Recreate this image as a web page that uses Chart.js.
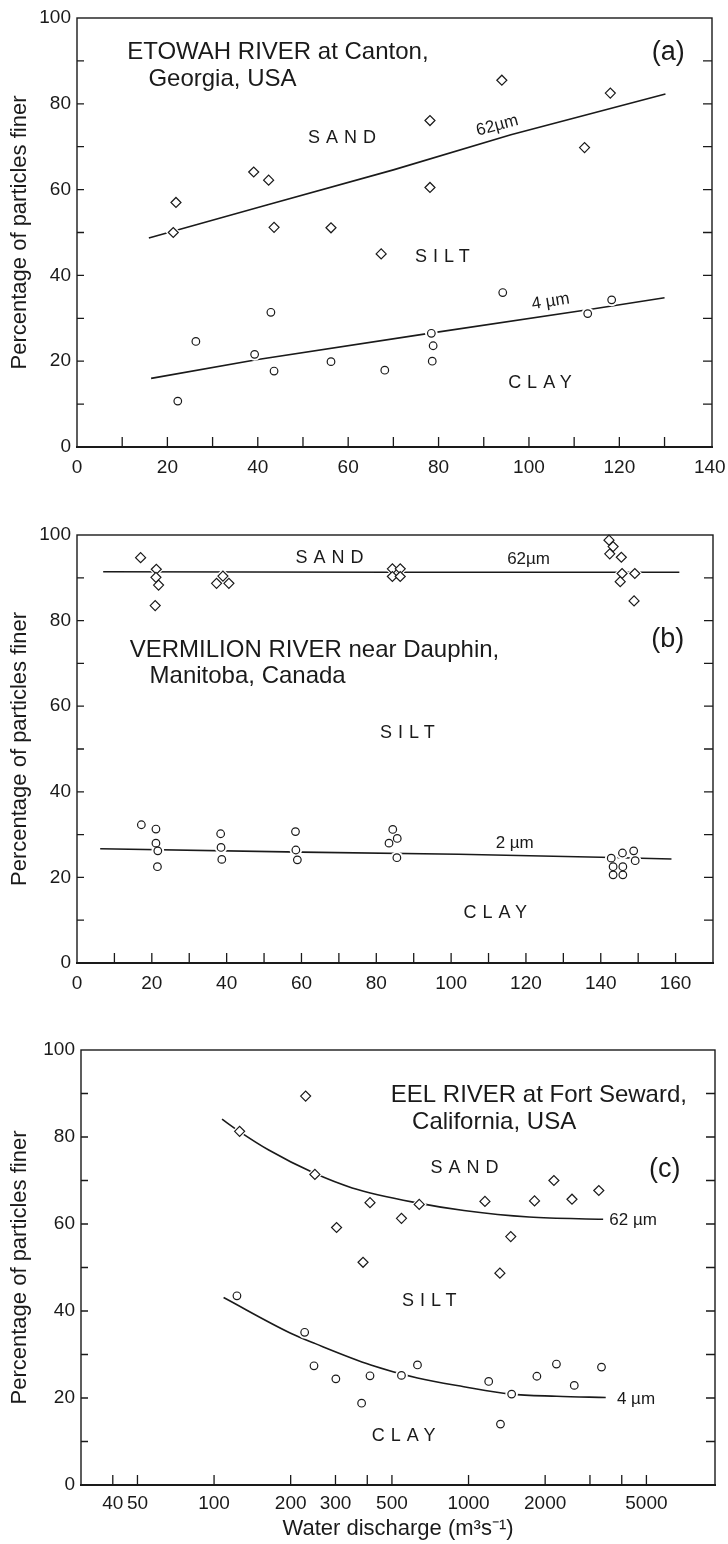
<!DOCTYPE html>
<html>
<head>
<meta charset="utf-8">
<script src="https://cdn.jsdelivr.net/npm/chart.js@4.4.1/dist/chart.umd.min.js"></script>
<style>
    html, body { margin: 0; padding: 0; background: #fff; }
    #page { position: relative; width: 728px; height: 1544px; }
    #page canvas { position: absolute; left: 0; }
</style>
</head>
<body>
<div id="page">
    <canvas id="chartA" width="728" height="500" style="top:0px"></canvas>
    <canvas id="chartB" width="728" height="505" style="top:500px"></canvas>
    <canvas id="chartC" width="728" height="539" style="top:1005px"></canvas>
</div>
<script>
// ---- (a) ETOWAH RIVER at Canton ----
const etowahSandQ = [21.9, 21.3, 39.1, 42.4, 43.6, 56.2, 67.3, 78.1, 78.1, 94.0, 112.3, 118.0];
const etowahSandPct = [57.0, 50.0, 64.1, 62.2, 51.2, 51.1, 45.0, 76.1, 60.5, 85.5, 69.8, 82.5];
const etowahClayQ = [22.3, 26.3, 39.3, 42.9, 43.6, 56.2, 68.1, 78.4, 78.8, 78.6, 94.2, 113.0, 118.3];
const etowahClayPct = [10.7, 24.6, 21.6, 31.4, 17.7, 19.9, 17.9, 26.5, 23.6, 20.0, 36.0, 31.1, 34.3];
const etowah62Q = [15.9, 42, 70, 96, 130.2];
const etowah62Pct = [48.7, 56.4, 64.6, 72.8, 82.3];
const etowah4Q = [16.4, 40, 78.6, 113, 130];
const etowah4Pct = [16.0, 20.4, 26.6, 32.0, 34.8];
const etowahXLabels = [0, 20, 40, 60, 80, 100, 120, 140];
const etowahXTicks = [10, 20, 30, 40, 50, 60, 70, 80, 90, 100, 110, 120, 130];

// ---- (b) VERMILION RIVER near Dauphin ----
const vermSandQ = [17.0, 21.2, 21.1, 21.8, 20.9, 37.3, 39.0, 40.6, 84.3, 86.4, 84.3, 86.4,
    142.2, 143.3, 142.4, 145.5, 145.7, 145.2, 149.1, 148.9];
const vermSandPct = [94.7, 92.0, 90.1, 88.3, 83.5, 88.7, 90.4, 88.7, 92.1, 92.1, 90.3, 90.3,
    98.8, 97.3, 95.6, 94.8, 91.0, 89.1, 91.0, 84.6];
const vermClayQ = [17.2, 21.1, 21.1, 21.6, 21.5, 38.4, 38.5, 38.7, 58.4, 58.5, 58.9, 84.4, 85.6, 83.4, 85.5,
    142.8, 143.3, 143.3, 145.8, 145.9, 145.9, 148.8, 149.2];
const vermClayPct = [32.3, 31.3, 28.0, 26.2, 22.5, 30.2, 27.0, 24.2, 30.7, 26.4, 24.1, 31.2, 29.1, 28.0, 24.6,
    24.5, 22.5, 20.6, 25.7, 22.5, 20.6, 26.2, 23.9];
const verm62Q = [7, 85, 161];
const verm62Pct = [91.4, 91.3, 91.3];
const verm2Q = [6.2, 60, 102, 140, 158.9];
const verm2Pct = [26.7, 25.9, 25.4, 24.7, 24.3];
const vermXLabels = [0, 20, 40, 60, 80, 100, 120, 140, 160];
const vermXTicks = [10, 20, 30, 40, 50, 60, 70, 80, 90, 100, 110, 120, 130, 140, 150, 160];

// ---- (c) EEL RIVER at Fort Seward ----
const eelSandQ = [126, 229, 249, 303, 385, 410, 545, 640, 1160, 1328, 1465, 1817, 2165, 2550, 3250];
const eelSandPct = [81.3, 89.4, 71.4, 59.2, 51.2, 64.9, 61.3, 64.5, 65.2, 48.7, 57.1, 65.3, 70.0, 65.7, 67.7];
const eelClayQ = [123, 227, 247, 301, 380, 410, 545, 630, 1200, 1335, 1477, 1856, 2215, 2603, 3330];
const eelClayPct = [43.5, 35.1, 27.4, 24.4, 18.8, 25.1, 25.2, 27.6, 23.8, 14.0, 20.9, 25.0, 27.8, 22.9, 27.1];
const eel62Q = [107.5, 125.5, 164, 247, 349, 635, 959, 1729, 3380];
const eel62Pct = [84.1, 81.3, 77.0, 71.7, 68.3, 64.8, 63.1, 61.6, 61.1];
const eel4Q = [109, 200, 250, 413, 630, 958, 1460, 2221, 3460];
const eel4Pct = [43.1, 34.9, 32.5, 27.6, 24.6, 22.6, 20.9, 20.4, 20.1];
const eelXLabels = [40, 50, 100, 200, 300, 500, 1000, 2000, 5000];
const eelXTicks = [40, 50, 100, 200, 300, 400, 500, 1000, 2000, 3000, 4000, 5000];

// shared y axis
const pctLabels = [0, 20, 40, 60, 80, 100];
const pctTicks = [10, 20, 30, 40, 50, 60, 70, 80, 90];

const INK = '#1a1a1a';
const FONT = '"Liberation Sans", Arial, sans-serif';

/**
 * zip two arrays into {x, y} points
 */
function pts(xs, ys) {
    return xs.map((x, i) => ({ x: x, y: ys[i] }));
}

/**
 * 枠と内向きの目盛、注記を描く
 */
const frameTicks = {
    id: 'frameTicks',
    afterDatasetsDraw(chart, args, opts) {
        const ctx = chart.ctx;
        const a = chart.chartArea;
        const xs = chart.scales.x;
        const ys = chart.scales.y;
        ctx.save();
        ctx.strokeStyle = INK;
        ctx.lineWidth = 1.4;
        ctx.strokeRect(a.left, a.top, a.right - a.left, a.bottom - a.top);
        ctx.lineWidth = 2.2;
        ctx.beginPath();
        ctx.moveTo(a.left - 1, a.bottom);
        ctx.lineTo(a.right + 1, a.bottom);
        ctx.stroke();

        ctx.lineWidth = 1.3;
        ctx.beginPath();
        opts.xTicks.forEach(v => {
            const px = xs.getPixelForValue(v);
            ctx.moveTo(px, a.bottom);
            ctx.lineTo(px, a.bottom - 10);
        });
        opts.yTicks.forEach(v => {
            const py = ys.getPixelForValue(v);
            ctx.moveTo(a.left, py);
            ctx.lineTo(a.left + 7, py);
            ctx.moveTo(a.right, py);
            ctx.lineTo(a.right - 9, py);
        });
        ctx.stroke();

        // 注記
        ctx.fillStyle = INK;
        ctx.textBaseline = 'middle';
        opts.notes.forEach(n => {
            ctx.save();
            ctx.font = n.size + 'px ' + FONT;
            ctx.letterSpacing = (n.spacing || 0) + 'px';
            ctx.textAlign = n.align || 'center';
            ctx.translate(xs.getPixelForValue(n.x), ys.getPixelForValue(n.y));
            ctx.rotate((n.angle || 0) * Math.PI / 180);
            ctx.fillText(n.text, 0, 0);
            ctx.restore();
        });
        ctx.restore();
    }
};

/**
 * PanelChart
 */
class PanelChart {
    /**
     * constructor
     *
     * @param {string} id canvas ID
     * @param {object} p 設定
     */
    constructor(id, p) {
        this.id = id;
        this.p = p;
        this.chart = null;
    }

    /**
     * グラフを生成
     *
     * @returns {PanelChart} this
     */
    create() {
        const p = this.p;
        if (this.chart) {
            this.chart.destroy();
        }
        const marker = (data, style, r) => ({
            data: data,
            pointStyle: style,
            pointRadius: r,
            pointBorderWidth: 1.2,
            pointBorderColor: INK,
            pointBackgroundColor: '#fff',
            showLine: false,
            clip: false,
            order: 1
        });
        // 線を白く切る縁取り
        const halo = (data, style, r) => ({
            data: data,
            pointStyle: style,
            pointRadius: r + 2.5,
            pointBorderWidth: 0,
            pointBorderColor: '#fff',
            pointBackgroundColor: '#fff',
            showLine: false,
            clip: false,
            order: 1.5
        });
        const fit = (data) => ({
            data: data,
            showLine: true,
            pointRadius: 0,
            borderColor: INK,
            borderWidth: 1.6,
            tension: p.curve ? 0.4 : 0,
            cubicInterpolationMode: p.curve ? 'monotone' : 'default',
            order: 2
        });

        this.chart = new Chart(document.getElementById(this.id), {
            type: 'scatter',
            data: {
                datasets: [
                    fit(p.line1),
                    fit(p.line2),
                    halo(p.sand, 'rectRot', 5),
                    halo(p.clay, 'circle', 3.8),
                    marker(p.sand, 'rectRot', 5),
                    marker(p.clay, 'circle', 3.8)
                ]
            },
            options: {
                responsive: false,
                animation: false,
                events: [],
                layout: { padding: { left: 0, top: p.top, right: p.right, bottom: 0 } },
                plugins: {
                    legend: { display: false },
                    tooltip: { enabled: false },
                    frameTicks: { xTicks: p.xTicks, yTicks: pctTicks, notes: p.notes }
                },
                scales: {
                    x: {
                        type: p.log ? 'logarithmic' : 'linear',
                        min: p.xMin,
                        max: p.xMax,
                        afterBuildTicks: s => { s.ticks = p.xLabels.map(v => ({ value: v })); },
                        afterFit: s => {
                            s.height = p.xHeight;
                            s.paddingLeft = 0;
                            s.paddingRight = 0;
                        },
                        grid: { display: false, drawTicks: false },
                        border: { display: false },
                        ticks: {
                            autoSkip: false,
                            maxRotation: 0,
                            padding: p.xPad,
                            color: INK,
                            font: { family: FONT, size: 19 },
                            callback: v => String(v)
                        },
                        title: {
                            display: !!p.xTitle,
                            text: p.xTitle || '',
                            color: INK,
                            font: { family: FONT, size: 22 },
                            padding: { top: 0, bottom: 2 }
                        }
                    },
                    y: {
                        min: 0,
                        max: 100,
                        afterBuildTicks: s => { s.ticks = pctLabels.map(v => ({ value: v })); },
                        afterFit: s => {
                            s.width = p.left;
                            s.paddingTop = 0;
                            s.paddingBottom = 0;
                        },
                        grid: { display: false, drawTicks: false },
                        border: { display: false },
                        ticks: {
                            padding: 6,
                            color: INK,
                            font: { family: FONT, size: 19 },
                            callback: v => String(v)
                        },
                        title: {
                            display: true,
                            text: 'Percentage of particles finer',
                            color: INK,
                            font: { family: FONT, size: 22 },
                            padding: { top: 7, bottom: 0 }
                        }
                    }
                }
            },
            plugins: [frameTicks]
        });
        return this;
    }
}

new PanelChart('chartA', {
    sand: pts(etowahSandQ, etowahSandPct),
    clay: pts(etowahClayQ, etowahClayPct),
    line1: pts(etowah62Q, etowah62Pct),
    line2: pts(etowah4Q, etowah4Pct),
    xMin: 0, xMax: 140.5,
    xLabels: etowahXLabels, xTicks: etowahXTicks,
    top: 18, right: 16, left: 77, xHeight: 53, xPad: 9,
    notes: [
        { text: 'ETOWAH RIVER at Canton,', x: 11.1, y: 91.9, size: 24, align: 'left' },
        { text: 'Georgia, USA', x: 15.8, y: 85.8, size: 24, align: 'left' },
        { text: '(a)', x: 130.8, y: 91.9, size: 27 },
        { text: 'SAND', x: 59.3, y: 72.0, size: 18, spacing: 6 },
        { text: '62µm', x: 93.0, y: 74.9, size: 17, angle: -15 },
        { text: 'SILT', x: 81.5, y: 44.2, size: 18, spacing: 6 },
        { text: '4 µm', x: 104.8, y: 33.9, size: 17, angle: -9 },
        { text: 'CLAY', x: 103.1, y: 14.9, size: 18, spacing: 6 }
    ]
}).create();

new PanelChart('chartB', {
    sand: pts(vermSandQ, vermSandPct),
    clay: pts(vermClayQ, vermClayPct),
    line1: pts(verm62Q, verm62Pct),
    line2: pts(verm2Q, verm2Pct),
    xMin: 0, xMax: 170,
    xLabels: vermXLabels, xTicks: vermXTicks,
    top: 35, right: 15, left: 77, xHeight: 42, xPad: 9,
    notes: [
        { text: 'VERMILION RIVER near Dauphin,', x: 14.1, y: 73.0, size: 24, align: 'left' },
        { text: 'Manitoba, Canada', x: 19.4, y: 66.9, size: 24, align: 'left' },
        { text: '(b)', x: 157.9, y: 75.5, size: 27 },
        { text: 'SAND', x: 68.3, y: 94.7, size: 18, spacing: 6 },
        { text: '62µm', x: 120.7, y: 94.3, size: 17 },
        { text: 'SILT', x: 89.1, y: 53.7, size: 18, spacing: 6 },
        { text: '2 µm', x: 117, y: 28.0, size: 17 },
        { text: 'CLAY', x: 112.6, y: 11.7, size: 18, spacing: 6 }
    ]
}).create();

new PanelChart('chartC', {
    sand: pts(eelSandQ, eelSandPct),
    clay: pts(eelClayQ, eelClayPct),
    line1: pts(eel62Q, eel62Pct),
    line2: pts(eel4Q, eel4Pct),
    log: true, curve: true,
    xMin: 30, xMax: 9300,
    xLabels: eelXLabels, xTicks: eelXTicks,
    top: 45, right: 13, left: 81, xHeight: 59, xPad: 7,
    xTitle: 'Water discharge (m³s⁻¹)',
    notes: [
        { text: 'EEL RIVER at Fort Seward,', x: 495, y: 89.5, size: 24, align: 'left' },
        { text: 'California, USA', x: 600, y: 83.3, size: 24, align: 'left' },
        { text: '(c)', x: 5900, y: 72.6, size: 27 },
        { text: 'SAND', x: 990, y: 72.8, size: 18, spacing: 6 },
        { text: '62 µm', x: 4430, y: 60.9, size: 17 },
        { text: 'SILT', x: 720, y: 42.2, size: 18, spacing: 6 },
        { text: '4 µm', x: 4550, y: 19.8, size: 17 },
        { text: 'CLAY', x: 571, y: 11.3, size: 18, spacing: 6 }
    ]
}).create();
</script>
</body>
</html>
